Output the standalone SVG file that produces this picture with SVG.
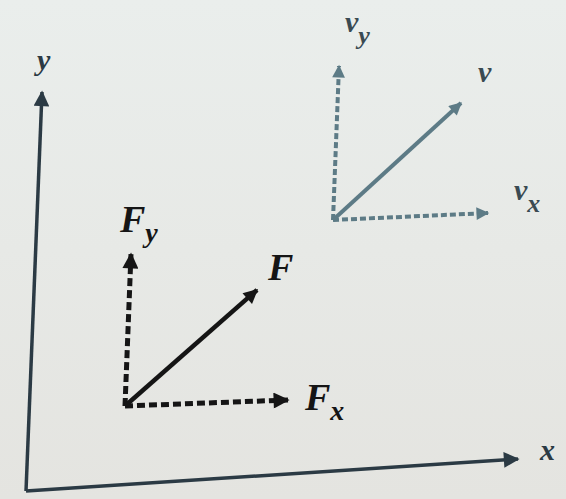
<svg xmlns="http://www.w3.org/2000/svg" width="566" height="499" viewBox="0 0 566 499">
<defs>
<linearGradient id="bg" x1="0" y1="0" x2="0" y2="1"><stop offset="0" stop-color="#eaeeec"/><stop offset="1" stop-color="#e4e4e0"/></linearGradient>
<marker id="ahAxis" viewBox="0 0 10 10" refX="9" refY="5" markerWidth="5" markerHeight="4.5" orient="auto" markerUnits="strokeWidth"><path d="M0,0 L10,5 L0,10 z" fill="#2b3a44"/></marker>
<marker id="ahF" viewBox="0 0 10 10" refX="9" refY="5" markerWidth="5.5" markerHeight="3.2" orient="auto" markerUnits="strokeWidth"><path d="M0,0 L10,5 L0,10 z" fill="#151515"/></marker>
<marker id="ahV" viewBox="0 0 10 10" refX="9" refY="5" markerWidth="5.5" markerHeight="3.2" orient="auto" markerUnits="strokeWidth"><path d="M0,0 L10,5 L0,10 z" fill="#5d7b86"/></marker>
</defs>
<style>
.lbl{font-family:"Liberation Serif","DejaVu Serif",serif;font-style:italic;font-weight:bold}
.axis{stroke:#2b3a44;stroke-width:3.5;fill:none}
.f{stroke:#151515;stroke-width:4.5;fill:none}
.fd{stroke:#151515;stroke-width:5;fill:none;stroke-dasharray:8 4}
.v{stroke:#5d7b86;stroke-width:4;fill:none}
.vd{stroke:#5d7b86;stroke-width:4;fill:none;stroke-dasharray:6 3}
</style>
<rect width="566" height="499" fill="url(#bg)"/>
<g id="connectors">
<path class="axis" d="M26,491 L42,92" marker-end="url(#ahAxis)"/>
<path class="axis" d="M26,491 L518,459" marker-end="url(#ahAxis)"/>
<path class="fd" d="M125,406 L131,254" marker-end="url(#ahF)"/>
<path class="fd" d="M125,406 L288,400" marker-end="url(#ahF)"/>
<path class="f" d="M125,406 L257,290" marker-end="url(#ahF)"/>
<path class="vd" d="M333,220 L339,66" marker-end="url(#ahV)"/>
<path class="vd" d="M333,220 L488,213" marker-end="url(#ahV)"/>
<path class="v" d="M333,220 L461,103" marker-end="url(#ahV)"/>
</g>
<g id="label-y"><text class="lbl" x="37" y="70" font-size="30" fill="#2b3a44">y</text></g>
<g id="label-x"><text class="lbl" x="540" y="460" font-size="30" fill="#2b3a44">x</text></g>
<g id="label-Fy"><text class="lbl" x="120" y="232" font-size="38" fill="#151515">F<tspan font-size="28" dy="10">y</tspan></text></g>
<g id="label-F"><text class="lbl" x="268" y="280" font-size="38" fill="#151515">F</text></g>
<g id="label-Fx"><text class="lbl" x="305" y="410" font-size="38" fill="#151515">F<tspan font-size="28" dy="10">x</tspan></text></g>
<g id="label-vy"><text class="lbl" x="345" y="32" font-size="30" fill="#3a4a52">v<tspan font-size="26" dy="12">y</tspan></text></g>
<g id="label-v"><text class="lbl" x="478" y="82" font-size="30" fill="#3a4a52">v</text></g>
<g id="label-vx"><text class="lbl" x="514" y="200" font-size="30" fill="#3a4a52">v<tspan font-size="26" dy="12">x</tspan></text></g>
</svg>
